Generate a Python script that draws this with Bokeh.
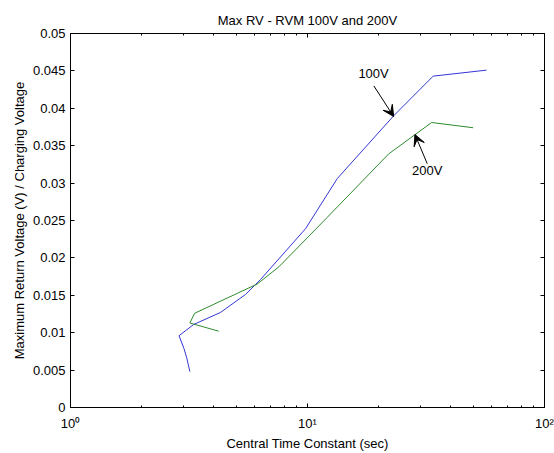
from bokeh.plotting import figure
from bokeh.models import (FixedTicker, LinearAxis, LogAxis, Arrow, VeeHead,
                          Label, Range1d)
from bokeh.embed import file_html
from bokeh.resources import INLINE

# ---- data ----
tau_100v = [3.19, 3.09, 3.01, 2.87, 3.31, 4.29, 5.47, 6.33, 9.81, 13.35, 23.1, 33.9, 56.9]
rv_100v = [0.0048, 0.0067, 0.0079, 0.0096, 0.0111, 0.0127, 0.0151, 0.0171,
           0.0239, 0.0306, 0.0390, 0.0443, 0.0451]

tau_200v = [4.22, 3.19, 3.34, 6.13, 7.57, 12.1, 22.0, 33.4, 50.0]
rv_200v = [0.0102, 0.0113, 0.0126, 0.0165, 0.0188, 0.0254, 0.0339, 0.0381, 0.0374]

x_ticks = [1, 10, 100]
x_tick_labels = ["10\u2070", "10\u00b9", "10\u00b2"]
x_minor = [2, 3, 4, 5, 6, 7, 8, 9, 20, 30, 40, 50, 60, 70, 80, 90]
y_ticks = [0, 0.005, 0.01, 0.015, 0.02, 0.025, 0.03, 0.035, 0.04, 0.045, 0.05]
y_tick_labels = ["0", "0.005", "0.01", "0.015", "0.02", "0.025", "0.03",
                 "0.035", "0.04", "0.045", "0.05"]

# annotations: label text, text position, arrow tail, arrow head
ann_text = ["100V", "200V"]
ann_text_x = [19.0, 32.0]
ann_text_y = [0.0447, 0.0317]
ann_tail_x = [19.05, 32.0]
ann_tail_y = [0.0430, 0.0326]
ann_head_x = [23.1, 28.4]
ann_head_y = [0.0389, 0.0365]

FONT = "Liberation Sans"
FS = "13px"

p = figure(output_backend="svg", toolbar_location=None,
           x_axis_type="log",
           x_range=Range1d(1, 100), y_range=Range1d(0, 0.05),
           frame_width=474, frame_height=374,
           min_border_left=70, min_border_right=10, min_border_top=33,
           min_border_bottom=46,
           title="Max RV - RVM 100V and 200V")

p.title.text_font = FONT
p.title.text_font_size = FS
p.title.text_font_style = "normal"
p.title.align = "center"
p.title.text_color = "black"
p.title.standoff = 12

p.background_fill_color = "white"
p.border_fill_color = "white"
p.outline_line_color = "black"
p.outline_line_width = 1


def style_axis(ax, show_labels=True):
    ax.major_tick_in = 4
    ax.major_tick_out = 0
    ax.minor_tick_in = 2
    ax.minor_tick_out = 0
    ax.axis_line_color = "black"
    ax.major_tick_line_color = "black"
    ax.minor_tick_line_color = "black"
    ax.major_label_text_font = FONT
    ax.major_label_text_font_size = FS
    ax.major_label_text_color = "black" if show_labels else None
    ax.axis_label_text_font = FONT
    ax.axis_label_text_font_size = FS
    ax.axis_label_text_font_style = "normal"
    ax.axis_label_text_color = "black"


x_over = dict(zip(x_ticks, x_tick_labels))
y_over = dict(zip(y_ticks, y_tick_labels))

xb = p.xaxis[0]
xb.ticker = FixedTicker(ticks=x_ticks, minor_ticks=x_minor)
xb.axis_label = "Central Time Constant (sec)"
style_axis(xb)
xb.major_label_overrides = x_over
xb.major_label_standoff = 8
xb.axis_label_standoff = 2

yl = p.yaxis[0]
yl.ticker = FixedTicker(ticks=y_ticks, minor_ticks=[])
yl.axis_label = "Maximum Return Voltage (V) / Charging Voltage"
style_axis(yl)
yl.major_label_overrides = y_over
yl.major_label_standoff = 5
yl.axis_label_standoff = 3

xa = LogAxis(ticker=FixedTicker(ticks=x_ticks, minor_ticks=x_minor))
style_axis(xa, False)
xa.major_label_standoff = 0
p.add_layout(xa, "above")

yr = LinearAxis(ticker=FixedTicker(ticks=y_ticks, minor_ticks=[]))
style_axis(yr, False)
yr.major_label_standoff = 0
p.add_layout(yr, "right")

p.xgrid.visible = False
p.ygrid.visible = False

p.line(tau_100v, rv_100v, line_color="#3535d5", line_width=1)
p.line(tau_200v, rv_200v, line_color="#2f8a2f", line_width=1)

for i in range(len(ann_text)):
    p.add_layout(Arrow(end=VeeHead(size=11, fill_color="black", line_color="black"),
                       x_start=ann_tail_x[i], y_start=ann_tail_y[i],
                       x_end=ann_head_x[i], y_end=ann_head_y[i],
                       line_color="black", line_width=1))
    p.add_layout(Label(x=ann_text_x[i], y=ann_text_y[i], text=ann_text[i],
                       text_font=FONT, text_font_size=FS, text_color="black",
                       text_align="center", text_baseline="middle"))

open("out.html", "w").write(file_html(p, INLINE))
